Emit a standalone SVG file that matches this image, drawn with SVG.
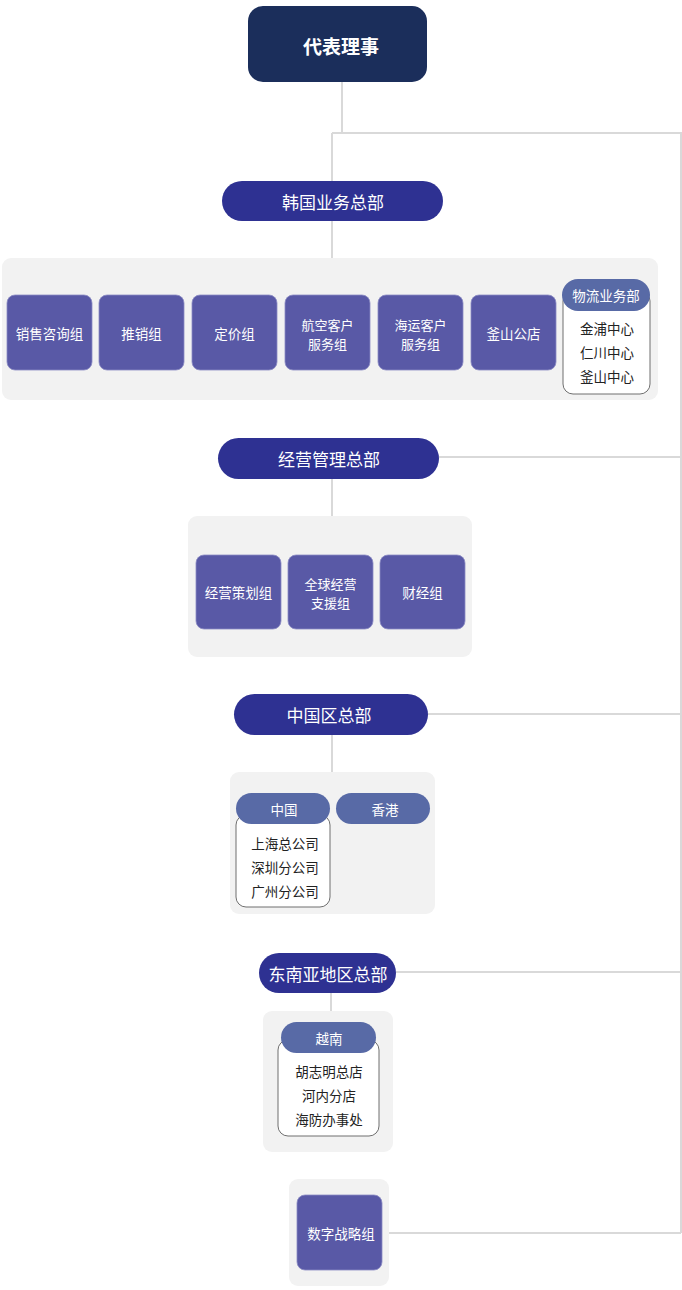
<svg xmlns="http://www.w3.org/2000/svg" width="682" height="1290" viewBox="0 0 682 1290">
<style>
text{font-family:"Noto Sans CJK SC","Noto Sans",sans-serif;text-anchor:middle;dominant-baseline:central}
.con{stroke:#d9d9d9;stroke-width:2;fill:none}
.grp{fill:#f2f2f2}
.hq{fill:#2e3192}
.hqt{fill:#fff;font-size:17px}
.box{fill:#5959a6;stroke:#8b8bc4;stroke-width:0.8}
.bt{fill:#fff;font-size:13.5px}
.bt2{fill:#fff;font-size:13px}
.sub{fill:#586aa6}
.st{fill:#fff;font-size:13.5px}
.list{fill:#fff;stroke:#6f6f6f;stroke-width:1}
.lt{fill:#222;font-size:13.5px}
</style>
<g id="connectors">
<path class="con" d="M342 82V133M332 133H681V1233M332 133V258M439 457H681M332 479V516M428 714H681M332 735V772M396 972H681M331 993V1011M389 1233H681"/>
</g>
<g id="groups">
<rect class="grp" x="2" y="258" width="656" height="142" rx="9"/>
<rect class="grp" x="188" y="516" width="284" height="141" rx="9"/>
<rect class="grp" x="230" y="772" width="205" height="142" rx="9"/>
<rect class="grp" x="263" y="1011" width="130" height="141" rx="9"/>
<rect class="grp" x="289" y="1179" width="100" height="107" rx="9"/>
</g>
<g id="ceo">
<rect x="248" y="6" width="179" height="76" rx="15" fill="#1b2e5b"/>
<text x="341" y="45" fill="#fff" font-size="19" font-weight="bold">代表理事</text>
</g>
<g id="korea-hq">
<rect class="hq" x="222" y="181" width="221" height="40" rx="20"/>
<text class="hqt" x="333" y="201">韩国业务总部</text>
</g>
<g id="sales-consult">
<rect class="box" x="7" y="295" width="85" height="75" rx="8"/>
<text class="bt" x="49.5" y="333">销售咨询组</text>
</g>
<g id="promotion">
<rect class="box" x="99" y="295" width="85" height="75" rx="8"/>
<text class="bt" x="141.5" y="333">推销组</text>
</g>
<g id="pricing">
<rect class="box" x="192" y="295" width="85" height="75" rx="8"/>
<text class="bt" x="234.5" y="333">定价组</text>
</g>
<g id="air-service">
<rect class="box" x="285" y="295" width="85" height="75" rx="8"/>
<text class="bt2" x="327.5" y="324">航空客户</text>
<text class="bt2" x="327.5" y="343">服务组</text>
</g>
<g id="sea-service">
<rect class="box" x="378" y="295" width="85" height="75" rx="8"/>
<text class="bt2" x="420.5" y="324">海运客户</text>
<text class="bt2" x="420.5" y="343">服务组</text>
</g>
<g id="busan-office">
<rect class="box" x="471" y="295" width="85" height="75" rx="8"/>
<text class="bt" x="513.5" y="333">釜山公店</text>
</g>
<g id="logistics">
<rect class="list" x="563" y="291" width="87" height="103" rx="10"/>
<rect class="sub" x="562" y="279" width="88" height="32" rx="16"/>
<text class="st" x="606" y="295">物流业务部</text>
<text class="lt" x="607" y="328">金浦中心</text>
<text class="lt" x="607" y="352">仁川中心</text>
<text class="lt" x="607" y="376">釜山中心</text>
</g>
<g id="mgmt-hq">
<rect class="hq" x="218" y="438" width="221" height="41" rx="20.5"/>
<text class="hqt" x="329" y="458.5">经营管理总部</text>
</g>
<g id="mgmt-planning">
<rect class="box" x="196" y="555" width="85" height="74" rx="8"/>
<text class="bt" x="238.5" y="592">经营策划组</text>
</g>
<g id="global-support">
<rect class="box" x="288" y="555" width="85" height="74" rx="8"/>
<text class="bt2" x="330.5" y="583.5">全球经营</text>
<text class="bt2" x="330.5" y="602.5">支援组</text>
</g>
<g id="finance">
<rect class="box" x="380" y="555" width="85" height="74" rx="8"/>
<text class="bt" x="422.5" y="592">财经组</text>
</g>
<g id="china-hq">
<rect class="hq" x="234" y="694" width="194" height="41" rx="20.5"/>
<text class="hqt" x="329" y="714.5">中国区总部</text>
</g>
<g id="china">
<rect class="list" x="236" y="815" width="94" height="92" rx="10"/>
<rect class="sub" x="236" y="793" width="94" height="31" rx="15.5"/>
<text class="st" x="284" y="808.5">中国</text>
<text class="lt" x="285" y="843">上海总公司</text>
<text class="lt" x="285" y="867">深圳分公司</text>
<text class="lt" x="285" y="891">广州分公司</text>
</g>
<g id="hongkong">
<rect class="sub" x="336" y="793" width="94" height="31" rx="15.5"/>
<text class="st" x="385" y="808.5">香港</text>
</g>
<g id="sea-hq">
<rect class="hq" x="259" y="953" width="137" height="40" rx="20"/>
<text class="hqt" x="328" y="973" font-size="17.5">东南亚地区总部</text>
</g>
<g id="vietnam">
<rect class="list" x="278" y="1040" width="101" height="96" rx="10"/>
<rect class="sub" x="281" y="1022" width="95" height="31" rx="15.5"/>
<text class="st" x="329" y="1037.5">越南</text>
<text class="lt" x="329" y="1071">胡志明总店</text>
<text class="lt" x="329" y="1095">河内分店</text>
<text class="lt" x="329" y="1119">海防办事处</text>
</g>
<g id="digital-strategy">
<rect class="box" x="297" y="1195" width="85" height="75" rx="8"/>
<text class="bt" x="341" y="1233">数字战略组</text>
</g>
</svg>
